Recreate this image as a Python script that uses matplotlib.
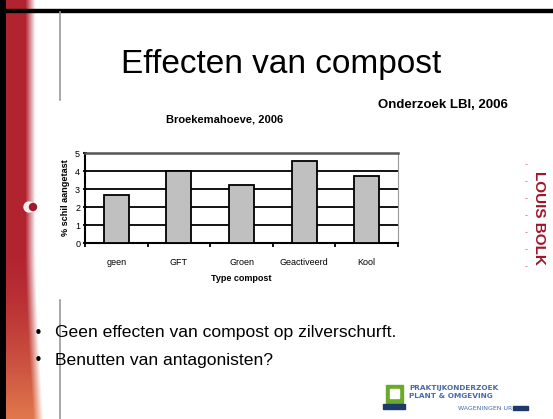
import numpy as np
import matplotlib.pyplot as plt
from matplotlib.patches import Rectangle, Circle

# Chart data
categories = ['geen', 'GFT', 'Groen', 'Geactiveerd', 'Kool']
values = [2.67, 4.0, 3.22, 4.55, 3.75]
bullets = ['Geen effecten van compost op zilverschurft.',
           'Benutten van antagonisten?']

W, H = 553, 419
fig = plt.figure(figsize=(W / 100, H / 100), dpi=100)
fig.patch.set_facecolor('white')


def fx(px):
    return px / W


def fy(py):
    return 1 - py / H


# Left red band (gradient fading to white)
band = fig.add_axes([0, 0, fx(62), 1])
band.set_axis_off()
ncol, nrow = 62, 200
rows = np.linspace(0, 1, nrow)[:, None]
red = np.array([0.70, 0.14, 0.19])
orange = np.array([0.88, 0.47, 0.30])
mix = np.clip((rows - 0.6) / 0.4, 0, 1) ** 1.5
base = red * (1 - mix[..., None]) + orange * mix[..., None]
edge = 25 + 8 * mix
fade = np.clip((np.arange(ncol)[None, :] - edge) / 10, 0, 1)
img = base * (1 - fade[..., None]) + fade[..., None]
img[:, :6] = 0
band.imshow(img, aspect='auto', extent=[0, ncol, H, 0])
band.set_xlim(0, 62)
band.set_ylim(H, 0)
band.add_patch(Circle((29, 207), 5, color='white', alpha=0.9))
band.add_patch(Circle((33, 207), 3.5, color='#9b1b2a'))

# Top black line and grey vertical rule
fig.add_artist(Rectangle((0, fy(12)), 1, 3 / H, transform=fig.transFigure,
                         color='black'))
fig.add_artist(plt.Line2D([fx(60), fx(60)], [fy(12), fy(100)],
                          transform=fig.transFigure, color='#999999', lw=1.2))
fig.add_artist(plt.Line2D([fx(60), fx(60)], [fy(300), 0],
                          transform=fig.transFigure, color='#999999', lw=1.2))

# Titles
fig.text(fx(281), fy(64), 'Effecten van compost', fontsize=24,
         ha='center', va='center', family='Liberation Sans')
fig.text(fx(443), fy(105), 'Onderzoek LBI, 2006', fontsize=9.5,
         fontweight='bold', ha='center', va='center', family='Liberation Sans')
fig.text(fx(225), fy(120), 'Broekemahoeve, 2006', fontsize=8,
         fontweight='bold', ha='center', va='center', family='Liberation Sans')

# Bar chart
ax = fig.add_axes([fx(85), fy(243), fx(398 - 85), (243 - 153) / H])
x = np.arange(len(categories))
ax.bar(x, values, width=0.4, color='#c0c0c0', edgecolor='black',
       linewidth=1.3, zorder=3)
ax.set_xlim(-0.5, len(categories) - 0.5)
ax.set_ylim(0, 5)
ax.set_yticks(range(6))
ax.set_xticks(x)
ax.set_xticklabels(categories, fontsize=6.5, family='Liberation Sans')
ax.set_xticks(np.arange(-0.5, len(categories)), minor=True)
ax.tick_params(axis='x', which='major', length=0, pad=11)
ax.tick_params(axis='x', which='minor', length=3, width=1.3, direction='out')
ax.tick_params(axis='y', length=3, width=1.3, direction='inout', labelsize=6.5,
               pad=2)
for lab in ax.get_yticklabels():
    lab.set_family('Liberation Sans')
ax.grid(axis='y', color='black', lw=1.3, zorder=1)
ax.spines['left'].set_linewidth(1.5)
ax.spines['bottom'].set_linewidth(1.5)
ax.spines['top'].set_color('#555555')
ax.spines['top'].set_linewidth(1.8)
ax.spines['right'].set_color('#999999')
ax.spines['right'].set_linewidth(0.8)
ax.set_xlabel('Type compost', fontsize=6.5, fontweight='bold', labelpad=5,
              family='Liberation Sans')
ax.set_ylabel('% schil aangetast', fontsize=6.6, fontweight='bold',
              labelpad=4, family='Liberation Sans')

# Bullet points
for i, b in enumerate(bullets):
    yy = fy(333 + i * 27)
    fig.text(fx(38), yy, '\u2022', fontsize=11, ha='center', va='center')
    fig.text(fx(55), yy, b, fontsize=12.6, ha='left', va='center',
             family='Liberation Sans')

# Louis Bolk logo
fig.text(fx(539), fy(218), 'LOUIS BOLK', rotation=-90, fontsize=11,
         fontweight='bold', color='#a0162a', ha='center', va='center',
         family='Liberation Sans')
for k in range(7):
    fig.text(fx(526), fy(165 + k * 17), '-', fontsize=6,
             color='#d07080', ha='center', va='center')

# Bottom-right logo
fig.add_artist(Rectangle((fx(386), fy(403)), 17 / W, 18 / H,
                         transform=fig.transFigure, color='#6aaa2a'))
fig.add_artist(Rectangle((fx(390), fy(398)), 9 / W, 9 / H,
                         transform=fig.transFigure, color='white'))
fig.add_artist(Rectangle((fx(383), fy(409)), 22 / W, 5 / H,
                         transform=fig.transFigure, color='#1e3a6a'))
fig.text(fx(409), fy(388), 'PRAKTIJKONDERZOEK', fontsize=5.3,
         color='#4a6aa8', ha='left', va='center', fontweight='bold')
fig.text(fx(409), fy(396), 'PLANT & OMGEVING', fontsize=5.3,
         color='#4a6aa8', ha='left', va='center', fontweight='bold')
fig.text(fx(512), fy(408), 'WAGENINGEN UR', fontsize=4.5,
         color='#4a6aa8', ha='right', va='center')
fig.add_artist(Rectangle((fx(513), fy(410)), 15 / W, 4 / H,
                         transform=fig.transFigure, color='#1e3a6a'))

fig.savefig('out.png', dpi=100)
